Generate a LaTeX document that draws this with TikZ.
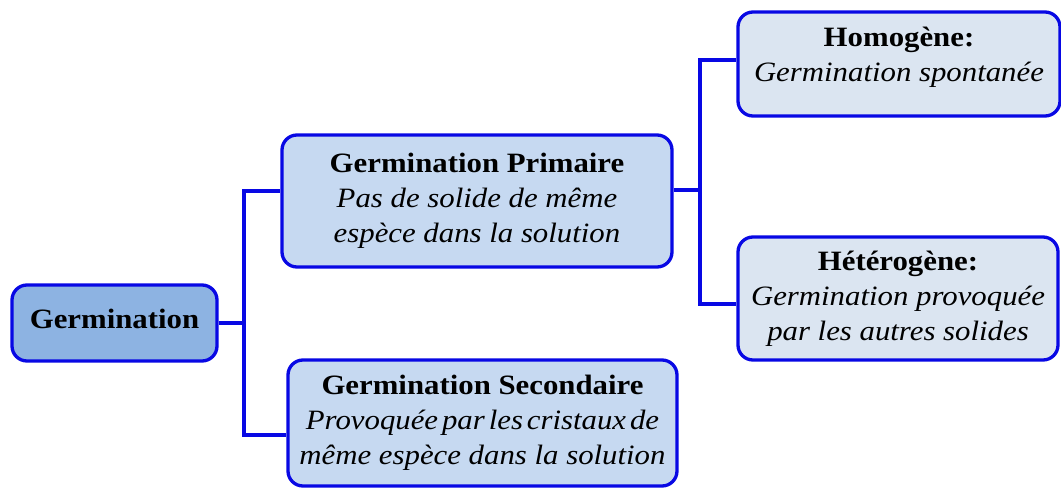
\documentclass[tikz,border=0pt]{standalone}
\usepackage{fontspec}
\setmainfont{Liberation Serif}[FakeStretch=1.1]
\begin{document}
\begin{tikzpicture}[x=1pt,y=-1pt,
  box/.style={draw=boxblue, line width=3.3pt, rounded corners=15pt, inner sep=0pt,
    align=center, font=\fontsize{28}{35}\selectfont},
  txt/.style={align=center, inner sep=0pt, font=\fontsize{28}{35}\selectfont},
  conn/.style={draw=boxblue, line width=3.3pt}]
\definecolor{boxblue}{RGB}{8,8,228}
\definecolor{fillA}{RGB}{141,179,226}
\definecolor{fillB}{RGB}{198,217,241}
\definecolor{fillC}{RGB}{219,229,241}
\useasboundingbox (0,0) rectangle (1061,488);
\node[box, fill=fillA, minimum width=205pt, minimum height=76pt] (g) at (114.5,323) {};
\node[txt] (gt) at ([yshift=4pt]g.center) {\bfseries Germination};
\node[box, fill=fillB, minimum width=390pt, minimum height=132pt] (p) at (477,201)
  {\bfseries Germination Primaire\\ \itshape Pas de solide de même\\ \itshape espèce dans la solution};
\node[box, fill=fillB, minimum width=389pt, minimum height=126pt] (s) at (482.5,423)
  {\bfseries Germination Secondaire\\ \itshape{\spaceskip=0.14em Provoquée par les cristaux de}\\ \itshape même espèce dans la solution};
\node[box, fill=fillC, minimum width=322pt, minimum height=104pt] (h) at (899,64) {};
\node[txt] (ht) at ([yshift=7pt]h.center)
  {\bfseries Homogène:\\ \itshape Germination spontanée};
\node[box, fill=fillC, minimum width=320pt, minimum height=123pt] (t) at (898,298.5)
  {\bfseries Hétérogène:\\ \itshape Germination provoquée\\ \itshape par les autres solides};
\coordinate (j1) at (244,323);
\coordinate (j2) at (700,190);
\draw[conn] (g.east) -- (j1);
\draw[conn] (j1) |- ([yshift=10pt]p.west);
\draw[conn] (j1) |- ([yshift=-12pt]s.west);
\draw[conn] ([yshift=11pt]p.east) -- (j2);
\draw[conn] (j2) |- ([yshift=4pt]h.west);
\draw[conn] (j2) |- ([yshift=-5.5pt]t.west);
\end{tikzpicture}
\end{document}
